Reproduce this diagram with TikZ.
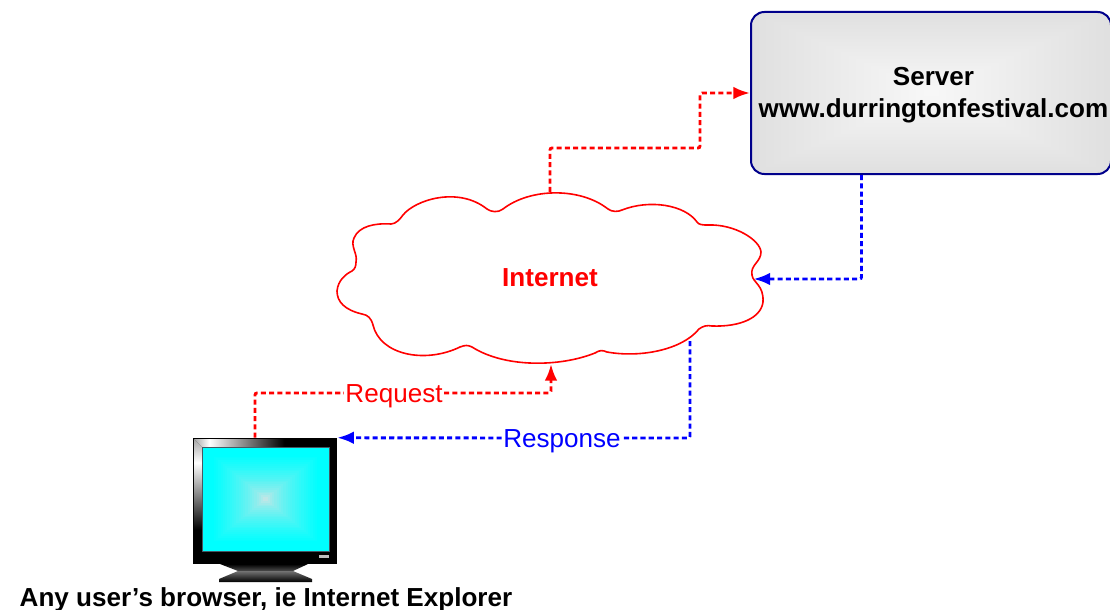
\documentclass[tikz,border=0pt]{standalone}
\usepackage{fontspec}
\setmainfont{Liberation Sans}
\usetikzlibrary{arrows.meta,positioning,calc}
\definecolor{servergrey}{HTML}{F8F8F8}
\definecolor{serveredge}{HTML}{E0E0E0}
\definecolor{screengrey}{HTML}{E2E2E2}
\definecolor{screencyan}{HTML}{00FFFF}
\definecolor{serverline}{HTML}{00008B}
\pgfdeclarehorizontalshading{bevelacross}{100bp}{color(0bp)=(black!35); color(25bp)=(black!35); color(33bp)=(white); color(72bp)=(black); color(100bp)=(black)}
\pgfdeclareverticalshading{beveldown}{100bp}{color(0bp)=(black); color(25bp)=(black); color(62bp)=(white); color(75bp)=(black!35); color(100bp)=(black!35)}

\begin{document}
\begin{tikzpicture}[x=0.75pt,y=-0.75pt]
  \tikzstyle{every node}=[font=\fontsize{19.55}{24}\selectfont,inner sep=0pt]
  \tikzstyle{link}=[line width=2.2pt,dash pattern=on 3.8pt off 2.4pt,rounded corners=1.5pt,-{Latex[length=12.5pt,width=9.5pt]}]
  \tikzstyle{plainlink}=[line width=2.2pt,dash pattern=on 3.8pt off 2.4pt,rounded corners=1.5pt]
  \tikzstyle{label}=[fill=white,inner xsep=1pt,inner ysep=0pt,text height=14pt,text depth=0.5pt]
  \useasboundingbox (0,0) rectangle (1110,610);

  % server box
  \begin{scope}
    \clip[rounded corners=10pt] (751,12) rectangle (1111,174);
    \foreach \i in {0,...,23} {
      \pgfmathsetmacro{\s}{1-\i/24}
      \pgfmathsetmacro{\p}{min(100,max(0,100*\s))}
      \fill[serveredge!\p!servergrey] ({931-180*\s},{93-81*\s}) rectangle ({931+180*\s},{93+81*\s});
    }
  \end{scope}
  \node[draw=serverline,line width=1.5pt,rounded corners=10pt,minimum width=270pt,minimum height=121.5pt,align=center] (server) at (931,93) {};
  \node[align=center,font=\fontsize{19.55}{24}\selectfont\bfseries] (servertext) at (933.5,95) {Server\\www.durringtonfestival.com};

  % cloud
  \draw[red,line width=1.2pt,fill=white]
    (356,262) .. controls (358,254) and (350,246) .. (354,238)
    .. controls (359,226) and (375,223) .. (391,224)
    .. controls (396,224) and (400,219) .. (403,215)
    .. controls (415,200) and (458,186) .. (487,209)
    .. controls (491,212) and (498,213) .. (503,209)
    .. controls (530,188) and (580,187) .. (608,209)
    .. controls (612,212) and (618,212) .. (622,210)
    .. controls (650,199) and (685,205) .. (697,222)
    .. controls (699,225) and (703,225) .. (708,225)
    .. controls (735,224) and (760,240) .. (761,252)
    .. controls (761,262) and (750,265) .. (752,275)
    .. controls (753,283) and (764,285) .. (763,302)
    .. controls (761,318) and (740,327) .. (712,326)
    .. controls (707,325) and (703,326) .. (699,329)
    .. controls (682,350) and (640,358) .. (607,352)
    .. controls (602,350) and (600,350) .. (595,353)
    .. controls (560,367) and (505,368) .. (472,347)
    .. controls (468,345) and (465,345) .. (460,347)
    .. controls (425,364) and (380,355) .. (373,325)
    .. controls (371,318) and (368,315) .. (362,314)
    .. controls (345,310) and (337,302) .. (337,291)
    .. controls (338,280) and (346,274) .. (352,271)
    .. controls (355,269) and (356,266) .. (356,262) -- cycle;
  \node[text=red,font=\fontsize{19.55}{24}\selectfont\bfseries] (internet) at (550,278) {Internet};
  \coordinate (cloudtop) at (550,192);
  \coordinate (cloudbottom) at (551,364);
  \coordinate (cloudright) at (753.5,279);
  \coordinate (cloudlow) at (690,341);

  % monitor
  \fill[black] (193,438) rectangle (337,564);
  \shade[shading=bevelacross] (194,439) -- (290,439) -- (290,447) -- (202,447) -- cycle;
  \shade[shading=beveldown] (194,439) -- (202,447) -- (202,530) -- (194,530) -- cycle;
  \fill[screencyan] (202,447) rectangle (329,551);
  \foreach \i in {0,...,23} {
    \pgfmathsetmacro{\s}{0.85*(1-\i/24)}
    \pgfmathsetmacro{\p}{min(100,max(0,100*(1-\i/24)^0.6))}
    \fill[screencyan!\p!screengrey] ({265.5-63.5*\s},{499-52*\s}) rectangle ({265.5+63.5*\s},{499+52*\s});
  }
  \draw[black!70!cyan,line width=0.5pt] (202,447) rectangle (329,551);
  \fill[black!25] (319,555) rectangle (329,558);
  \shade[top color=black,bottom color=black!70] (220,564) -- (308,564) -- (293,571) -- (238,571) -- cycle;
  \shade[top color=black!55,bottom color=black] (238,571) -- (293,571) -- (312,579) -- (312,582) -- (219,582) -- (219,579) -- cycle;
  \node[inner sep=0pt,minimum width=108pt,minimum height=94.5pt] (monitor) at (265,501) {};
  \node[font=\fontsize{19.55}{24}\selectfont\bfseries] (browser) at (266,600) {Any user’s browser, ie Internet Explorer};

  % links
  \node[label,text=red] (request) at (394,393) {Request};
  \node[label,text=blue] (response) at (562,438) {Response};
  \draw[plainlink,red] (monitor.north -| 255,0) |- (request.west);
  \draw[link,red] (request.east) -| (cloudbottom);
  \draw[link,red] (cloudtop) |- (700,148) |- (server.west |- 0,93);
  \draw[link,blue] (server.south -| 861.5,0) |- (cloudright);
  \draw[plainlink,blue] (cloudlow) |- (response.east);
  \draw[link,blue] (response.west) -- (monitor.north east);
\end{tikzpicture}
\end{document}
